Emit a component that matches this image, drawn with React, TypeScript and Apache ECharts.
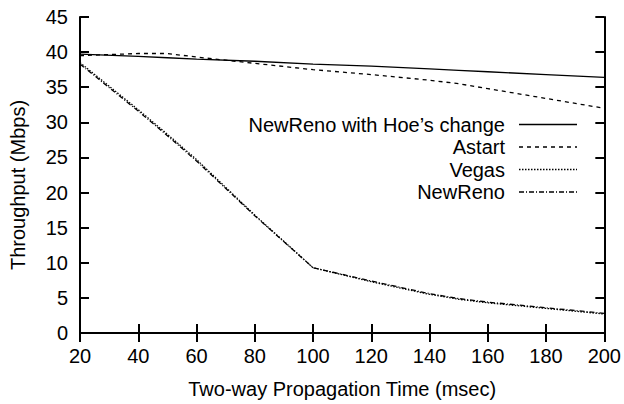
import React, { useEffect, useRef } from "react";
import * as echarts from "echarts";

// Propagation delay (msec) at which each TCP variant was measured
const delays = [20, 40, 50, 60, 80, 100, 120, 140, 150, 160, 180, 200];

// Throughput (Mbps) per variant
const hoeValues = [39.7, 39.4, 39.2, 39.0, 38.7, 38.3, 38.0, 37.6, 37.4, 37.2, 36.8, 36.4];
const astartValues = [39.5, 39.8, 39.8, 39.3, 38.4, 37.5, 36.8, 36.0, 35.5, 34.8, 33.4, 32.0];
const vegasValues = [38.5, 31.8, 28.3, 24.7, 16.8, 9.3, 7.3, 5.5, 4.8, 4.3, 3.5, 2.7];
const newRenoValues = [38.3, 31.6, 28.1, 24.5, 16.7, 9.3, 7.4, 5.6, 4.9, 4.4, 3.6, 2.8];

const seriesNames = ["NewReno with Hoe\u2019s change", "Astart", "Vegas", "NewReno"];
const seriesDashes: (number[] | null)[] = [null, [4, 4], [1.5, 1.5], [5, 2, 1, 2]];

const xTicks = { min: 20, max: 200, step: 20 };
const yTicks = { min: 0, max: 45, step: 5 };

const FONT = "'Liberation Sans', Arial, Helvetica, sans-serif";

function pairs(values: number[]) {
  return delays.map((d, i) => [d, values[i]]);
}

export default function App() {
  const ref = useRef<HTMLDivElement>(null);

  useEffect(() => {
    if (!ref.current) return;
    const chart = echarts.init(ref.current, undefined, { renderer: "svg" });

    const axisLine = { show: true, lineStyle: { color: "#000", width: 2 } };
    const axisTick = { show: true, inside: true, length: 9, lineStyle: { color: "#000", width: 2 } };
    const axisLabel = { color: "#000", fontSize: 20, fontFamily: FONT };

    const allValues = [hoeValues, astartValues, vegasValues, newRenoValues];

    // Legend drawn as right-aligned text with a line sample to its right
    const legendRows = [124.5, 147, 169.5, 192];
    const legendGraphics: any[] = [];
    seriesNames.forEach((name, i) => {
      legendGraphics.push({
        type: "text",
        x: 505,
        y: legendRows[i],
        style: {
          text: name,
          fill: "#000",
          font: `20px ${FONT}`,
          textAlign: "right",
          textVerticalAlign: "middle",
        },
      });
      legendGraphics.push({
        type: "line",
        shape: { x1: 519, y1: legendRows[i], x2: 577, y2: legendRows[i] },
        style: {
          stroke: "#000",
          lineWidth: 1.3,
          lineDash: seriesDashes[i] || undefined,
        },
      });
    });

    chart.setOption({
      animation: false,
      backgroundColor: "#fff",
      grid: { left: 79, right: 16, top: 17, bottom: 69, containLabel: false },
      xAxis: [
        {
          type: "value",
          min: xTicks.min,
          max: xTicks.max,
          interval: xTicks.step,
          position: "bottom",
          name: "Two-way Propagation Time (msec)",
          nameLocation: "middle",
          nameGap: 46,
          nameTextStyle: { color: "#000", fontSize: 20, fontFamily: FONT, verticalAlign: "top" },
          axisLine,
          axisTick,
          axisLabel: { ...axisLabel, margin: 13 },
          splitLine: { show: false },
        },
        {
          type: "value",
          min: xTicks.min,
          max: xTicks.max,
          interval: xTicks.step,
          position: "top",
          axisLine,
          axisTick,
          axisLabel: { show: false },
          splitLine: { show: false },
        },
      ],
      yAxis: [
        {
          type: "value",
          min: yTicks.min,
          max: yTicks.max,
          interval: yTicks.step,
          position: "left",
          name: "Throughput (Mbps)",
          nameLocation: "middle",
          nameGap: 52,
          nameTextStyle: { color: "#000", fontSize: 20, fontFamily: FONT, padding: [0, 20, 0, 0] },
          axisLine,
          axisTick,
          axisLabel: { ...axisLabel, margin: 12 },
          splitLine: { show: false },
        },
        {
          type: "value",
          min: yTicks.min,
          max: yTicks.max,
          interval: yTicks.step,
          position: "right",
          axisLine,
          axisTick,
          axisLabel: { show: false },
          splitLine: { show: false },
        },
      ],
      series: seriesNames.map((name, i) => ({
        type: "line",
        name,
        data: pairs(allValues[i]),
        xAxisIndex: 0,
        yAxisIndex: 0,
        showSymbol: false,
        symbol: "none",
        lineStyle: {
          color: "#000",
          width: 1.3,
          type: seriesDashes[i] || "solid",
        },
      })),
      graphic: legendGraphics,
    });

    return () => chart.dispose();
  }, []);

  return (
    <div
      ref={ref}
      style={{ position: "fixed", left: 0, top: 0, width: 624, height: 404, background: "#fff" }}
    />
  );
}
